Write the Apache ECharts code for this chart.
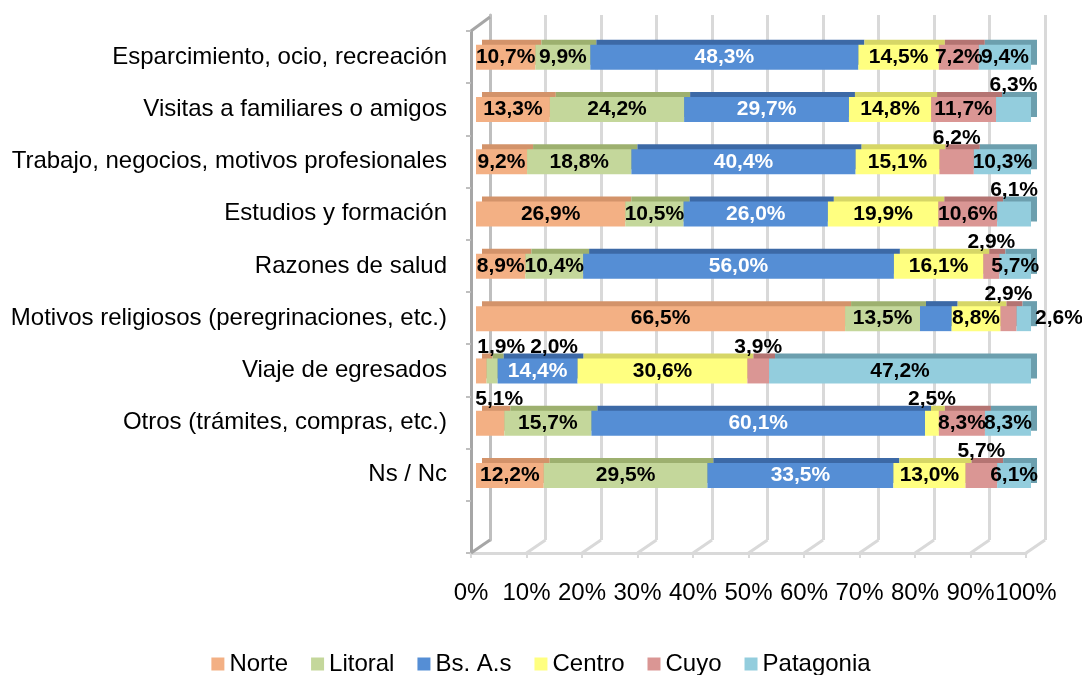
<!DOCTYPE html>
<html>
<head>
<meta charset="utf-8">
<script src="https://cdn.jsdelivr.net/npm/echarts@6/dist/echarts.min.js"></script>
<style>
	html, body { margin: 0; padding: 0; background: #fff; }
	#chart { width: 1082px; height: 675px; }
</style>
</head>
<body>
<div id="chart"></div>
<script>
var categories = ['Esparcimiento, ocio, recreación', 'Visitas a familiares o amigos',
	'Trabajo, negocios, motivos profesionales', 'Estudios y formación', 'Razones de salud',
	'Motivos religiosos (peregrinaciones, etc.)', 'Viaje de egresados',
	'Otros (trámites, compras, etc.)', 'Ns / Nc', ''];
var regions = ['Norte', 'Litoral', 'Bs. A.s', 'Centro', 'Cuyo', 'Patagonia'];
var norte = [10.7, 13.3, 9.2, 26.9, 8.9, 66.5, 1.9, 5.1, 12.2];
var litoral = [9.9, 24.2, 18.8, 10.5, 10.4, 13.5, 2.0, 15.7, 29.5];
var bsas = [48.3, 29.7, 40.4, 26.0, 56.0, 5.7, 14.4, 60.1, 33.5];
var centro = [14.5, 14.8, 15.1, 19.9, 16.1, 8.8, 30.6, 2.5, 13.0];
var cuyo = [7.2, 11.7, 6.2, 10.6, 2.9, 2.9, 3.9, 8.3, 5.7];
var patagonia = [9.4, 6.3, 10.3, 6.1, 5.7, 2.6, 47.2, 8.3, 6.1];
var ticks = [0, 10, 20, 30, 40, 50, 60, 70, 80, 90, 100];

var values = [norte, litoral, bsas, centro, cuyo, patagonia];
var colors = ['#F3B084', '#C4D79B', '#558ED5', '#FFFF80', '#DA9694', '#93CDDD'];
var topColors = ['#D3936A', '#9DB06F', '#3C69A6', '#D6D666', '#B47472', '#6C9FAE'];

// where the small values get their label (Excel moved them out of the bar)
var above = { 'Patagonia': [1, 3], 'Cuyo': [2, 4, 5, 6, 8], 'Norte': [6, 7], 'Litoral': [6], 'Centro': [7] };
var shift = { 'Norte-6': 20, 'Litoral-6': 62, 'Norte-7': 9 };
var toRight = { 'Patagonia': [5] };
var hidden = { 'Bs. A.s': [5] };

function fmt(v) {
	return v.toFixed(1).replace('.', ',') + '%';
}

var FONT = 'Liberation Sans, Arial, sans-serif';

var series = regions.map(function(name, s) {
	var data = values[s].map(function(v, i) {
		var item = { value: v };
		if ((above[name] || []).indexOf(i) >= 0) {
			item.label = { position: 'top', distance: 1, color: '#000', offset: [shift[name + '-' + i] || 0, 0] };
		} else if ((toRight[name] || []).indexOf(i) >= 0) {
			item.label = { position: 'right', distance: 4, color: '#000' };
		} else if ((hidden[name] || []).indexOf(i) >= 0) {
			item.label = { show: false };
		}
		return item;
	});
	return {
		name: name,
		type: 'bar',
		stack: 'total',
		xAxisIndex: 0,
		yAxisIndex: 0,
		barWidth: 25,
		z: 3,
		data: data,
		itemStyle: {
			color: colors[s],
			shadowColor: topColors[s],
			shadowBlur: 0,
			shadowOffsetX: 6,
			shadowOffsetY: -5
		},
		label: {
			show: true,
			position: 'inside',
			fontFamily: FONT,
			fontWeight: 'bold',
			fontSize: 21,
			color: name === 'Bs. A.s' ? '#fff' : '#000',
			formatter: function(p) { return fmt(p.value); }
		},
		emphasis: { disabled: true }
	};
});

// floor diagonals of the 3D box, one per tick
series.push({
	type: 'custom',
	xAxisIndex: 1,
	yAxisIndex: 1,
	z: 1,
	silent: true,
	data: ticks.map(function(t) { return [t, 0]; }),
	renderItem: function(params, api) {
		var x = api.coord([api.value(0), 0])[0];
		var cs = params.coordSys;
		var yb = cs.y + cs.height;
		var first = api.value(0) === 0;
		var children = [{
			type: 'line',
			shape: { x1: x, y1: yb, x2: x + 19, y2: yb - 13 },
			style: { stroke: first ? '#A6A6A6' : '#D9D9D9', lineWidth: 3 }
		}];
		if (first) {
			children.push({
				type: 'line',
				shape: { x1: x, y1: cs.y, x2: x + 19, y2: cs.y - 14 },
				style: { stroke: '#A6A6A6', lineWidth: 3 }
			});
		}
		return { type: 'group', children: children };
	}
});

var chart = echarts.init(document.getElementById('chart'));
chart.setOption({
	animation: false,
	textStyle: { fontFamily: FONT },
	legend: {
		data: regions,
		top: 652,
		left: 'center',
		padding: 0,
		icon: 'rect',
		itemWidth: 13,
		itemHeight: 13,
		itemGap: 23,
		textStyle: { fontSize: 24, color: '#000', fontFamily: FONT }
	},
	grid: [
		// bars
		{ left: 476, right: 51, top: 31, bottom: 121, containLabel: false, outerBoundsMode: 'none' },
		// front plane: labels, floor edge
		{ left: 471, right: 56, top: 31, bottom: 122, containLabel: false, outerBoundsMode: 'none' },
		// back wall
		{ left: 490, right: 37, top: 15, bottom: 135, containLabel: false, outerBoundsMode: 'none' }
	],
	xAxis: [
		{
			gridIndex: 0, type: 'value', min: 0, max: 100, interval: 10,
			axisLine: { show: false }, axisTick: { show: false },
			axisLabel: { show: false }, splitLine: { show: false }
		},
		{
			gridIndex: 1, type: 'value', min: 0, max: 100, interval: 10,
			axisLine: { show: true, lineStyle: { color: '#D9D9D9', width: 3 } },
			axisTick: { show: true, length: 5, lineStyle: { color: '#D9D9D9', width: 2 } },
			axisLabel: { show: true, margin: 28, fontSize: 24, color: '#000', formatter: '{value}%' },
			splitLine: { show: false }
		},
		{
			gridIndex: 2, type: 'value', min: 0, max: 100, interval: 10,
			axisLine: { show: false }, axisTick: { show: false },
			axisLabel: { show: false },
			splitLine: { show: true, lineStyle: { color: '#D9D9D9', width: 3 } }
		}
	],
	yAxis: [
		{
			gridIndex: 0, type: 'category', data: categories, inverse: true,
			axisLine: { show: false }, axisTick: { show: false },
			axisLabel: { show: false }, splitLine: { show: false }
		},
		{
			gridIndex: 1, type: 'category', data: categories, inverse: true,
			axisLine: { show: true, lineStyle: { color: '#A6A6A6', width: 3 } },
			axisTick: { show: true, length: 5, lineStyle: { color: '#BFBFBF', width: 2 } },
			axisLabel: { show: true, margin: 24, fontSize: 24, color: '#000' },
			splitLine: { show: false }
		},
		{
			gridIndex: 2, type: 'value', min: 0, max: 1,
			axisLine: { show: true, lineStyle: { color: '#BFBFBF', width: 3 } },
			axisTick: { show: false }, axisLabel: { show: false },
			splitLine: { show: false }
		}
	],
	series: series
});
</script>
</body>
</html>
